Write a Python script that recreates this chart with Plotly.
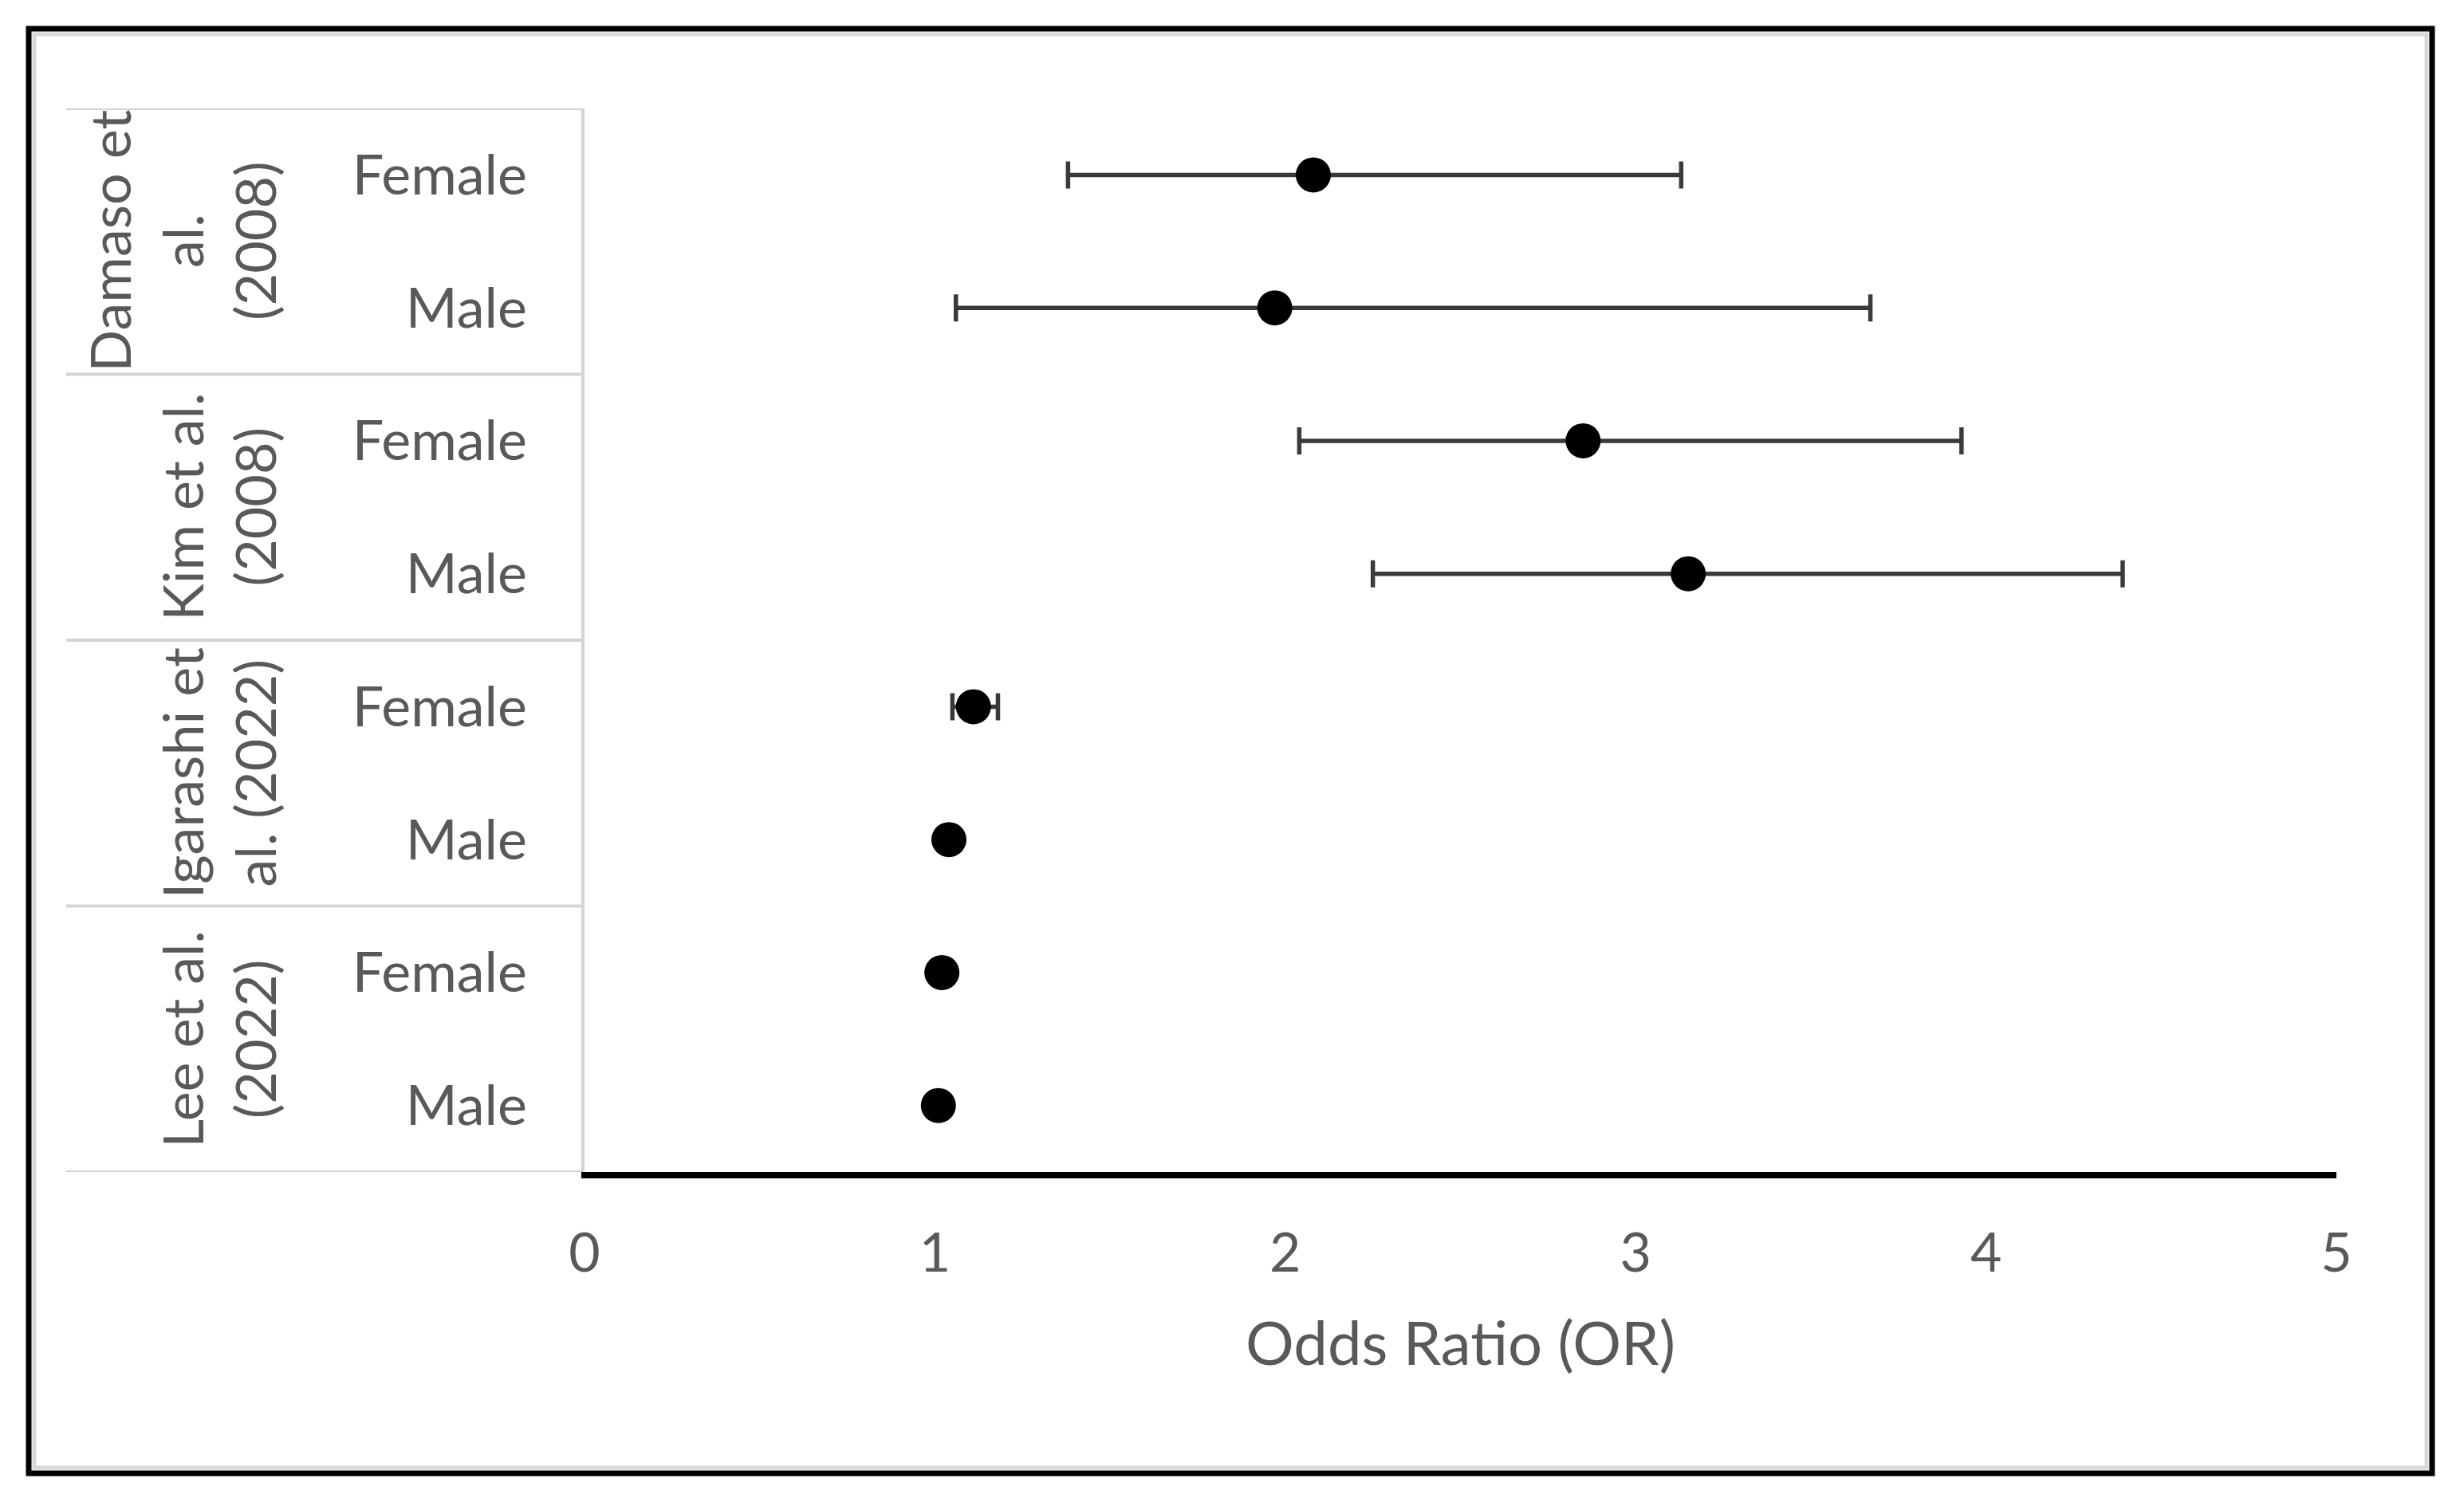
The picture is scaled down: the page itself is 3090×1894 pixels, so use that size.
import plotly.graph_objects as go

# ---- data ----
studies = ["Damaso et<br>al.<br>(2008)", "Kim et al.<br>(2008)", "Igarashi et<br>al. (2022)", "Lee et al.<br>(2022)"]
sexes = ["Female", "Male"]
or_values = [2.08, 1.97, 2.85, 3.15, 1.11, 1.04, 1.02, 1.01]
ci_lower = [1.38, 1.06, 2.04, 2.25, 1.05, 1.02, 1.01, 1.00]
ci_upper = [3.13, 3.67, 3.93, 4.39, 1.18, 1.06, 1.03, 1.02]
x_ticks = [0, 1, 2, 3, 4, 5]

# ---- layout geometry (pixels, page coordinates; page body has an 8px margin) ----
OFF = 8
W, H = 3090 - 2 * OFF, 1894 - 2 * OFF
PL, PR, PT, PB = 733 - OFF, 2930 - OFF, 136 - OFF, 1470 - OFF
pw, ph = PR - PL, PB - PT

def px(x):
    return (x - OFF - PL) / pw

def py(y):
    return (PB - (y - OFF)) / ph

n_rows = len(studies) * len(sexes)
row_pos = list(range(n_rows))
row_text = [s for _ in studies for s in sexes]

FONT = "Lato, 'Open Sans', sans-serif"
GREY = "#595959"

fig = go.Figure()
fig.add_trace(go.Scatter(
    x=or_values,
    y=row_pos,
    mode="markers",
    marker=dict(color="black", size=44, symbol="circle"),
    error_x=dict(
        type="data",
        symmetric=False,
        array=[u - v for u, v in zip(ci_upper, or_values)],
        arrayminus=[v - l for v, l in zip(or_values, ci_lower)],
        color="#3a3a3a",
        thickness=5.5,
        width=17,
    ),
    showlegend=False,
    hoverinfo="x",
))

shapes = []
# outer black frame
shapes.append(dict(type="rect", xref="paper", yref="paper",
                   x0=px(36), x1=px(3050), y0=py(1848), y1=py(36),
                   line=dict(color="black", width=7), fillcolor="rgba(0,0,0,0)", layer="above"))
# inner grey frame
shapes.append(dict(type="rect", xref="paper", yref="paper",
                   x0=px(43), x1=px(3043), y0=py(1841), y1=py(43),
                   line=dict(color="#d9d9d9", width=5), fillcolor="rgba(0,0,0,0)", layer="below"))
# grouping lines of the category table
n_groups = len(studies)
for g in range(n_groups + 1):
    yv = g * len(sexes) - 0.5
    shapes.append(dict(type="line", xref="paper", yref="y",
                       x0=px(83), x1=0, y0=yv, y1=yv,
                       line=dict(color="#d4d4d4", width=4), layer="below"))

annotations = []
for g, name in enumerate(studies):
    yc = g * len(sexes) + (len(sexes) - 1) / 2
    annotations.append(dict(
        text=name, xref="paper", yref="y", x=px(363), y=yc,
        xanchor="right", yanchor="middle", textangle=-90, showarrow=False,
        align="center", font=dict(family=FONT, size=70, color=GREY),
    ))

fig.update_layout(
    width=W, height=H,
    margin=dict(l=PL, r=W - PR, t=PT, b=H - PB, pad=0),
    paper_bgcolor="white", plot_bgcolor="white",
    shapes=shapes, annotations=annotations,
    xaxis=dict(
        range=[0, 5], tickvals=x_ticks, ticktext=[str(t) for t in x_ticks],
        showgrid=False, zeroline=False,
        showline=True, linecolor="black", linewidth=8,
        ticks="", ticklabelstandoff=35,
        tickfont=dict(family=FONT, size=68, color=GREY),
        title=dict(text="Odds Ratio (OR)", standoff=54,
                   font=dict(family=FONT, size=76, color=GREY)),
    ),
    yaxis=dict(
        range=[n_rows - 0.5, -0.5], tickvals=row_pos, ticktext=row_text,
        showgrid=False, zeroline=False,
        showline=True, linecolor="#d4d4d4", linewidth=4,
        ticks="", ticklabelstandoff=54,
        tickfont=dict(family=FONT, size=70, color=GREY),
    ),
)

fig.write_html("out.html")
